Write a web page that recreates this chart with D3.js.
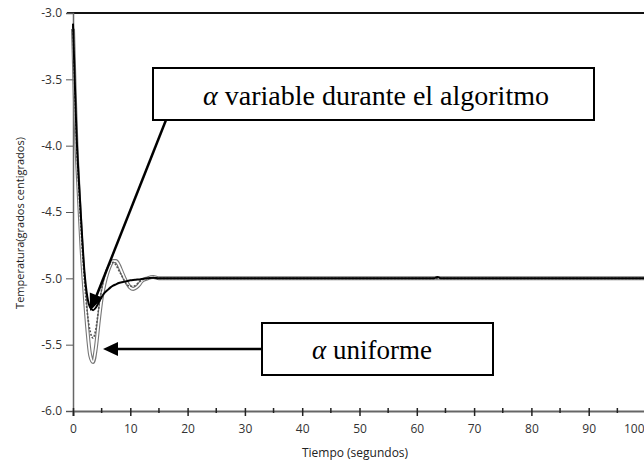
<!DOCTYPE html>
<html>
<head>
<meta charset="utf-8">
<script src="https://cdn.jsdelivr.net/npm/d3@7"></script>
<style>
  body { margin: 0; background: #fff; }
  svg { display: block; }
</style>
</head>
<body>
<script>
// tiempo (s) shared by the three runs
var tiempo = [0, 0.3, 0.6, 1, 1.5, 2, 2.5, 3, 3.5, 4, 4.5, 5, 5.5, 6, 6.5, 7, 7.5, 8, 8.5, 9, 9.5,
  10, 10.5, 11, 11.5, 12, 13, 14, 15, 16, 18, 20, 30, 40, 50, 60, 63, 63.6, 64.2, 70, 80, 90, 100];

// alpha variable durante el algoritmo (solid black)
var tempVariable = [-3.08, -3.5, -3.9, -4.25, -4.62, -4.95, -5.14, -5.22, -5.24, -5.22, -5.18, -5.14, -5.11,
  -5.09, -5.07, -5.055, -5.045, -5.035, -5.03, -5.025, -5.02, -5.015, -5.012, -5.01, -5.008, -5.005,
  -5.0, -4.995, -5.0, -5.0, -5.0, -5.0, -5.0, -5.0, -5.0, -5.0, -5.0, -4.99, -5.0, -5.0, -5.0, -5.0, -5.0];

// alpha uniforme (dotted)
var tempUniforme1 = [-3.1, -3.55, -3.95, -4.3, -4.7, -5.02, -5.26, -5.4, -5.45, -5.38, -5.22, -5.08, -4.98,
  -4.92, -4.89, -4.88, -4.9, -4.94, -4.98, -5.02, -5.05, -5.06, -5.06, -5.05, -5.03, -5.015,
  -5.0, -4.995, -5.0, -5.0, -5.0, -5.0, -5.0, -5.0, -5.0, -5.0, -5.0, -5.0, -5.0, -5.0, -5.0, -5.0, -5.0];

// alpha uniforme (deepest, outlined grey)
var tempUniforme2 = [-3.12, -3.6, -4.0, -4.36, -4.78, -5.1, -5.38, -5.58, -5.63, -5.52, -5.32, -5.15, -5.04,
  -4.96, -4.9, -4.87, -4.87, -4.9, -4.95, -5.0, -5.04, -5.07, -5.08, -5.07, -5.05, -5.02,
  -5.0, -4.99, -5.0, -5.0, -5.0, -5.0, -5.0, -5.0, -5.0, -5.0, -5.0, -5.0, -5.0, -5.0, -5.0, -5.0, -5.0];

var xTicks = [0, 10, 20, 30, 40, 50, 60, 70, 80, 90, 100];
var xMinor = [5, 15, 25, 35, 45, 55, 65, 75, 85, 95];
var yTicks = [-3.0, -3.5, -4.0, -4.5, -5.0, -5.5, -6.0];

var width = 644, height = 469;
var sans = 'Open Sans, DejaVu Sans, sans-serif';
var serif = 'Liberation Serif, Times New Roman, serif';

var svg = d3.select('body').append('svg')
  .attr('width', width)
  .attr('height', height);

var x = d3.scaleLinear().domain([0, 100]).range([73, 646]);
var y = d3.scaleLinear().domain([-6, -3]).range([411, 13]);

// top frame line
svg.append('line')
  .attr('x1', 67).attr('x2', width)
  .attr('y1', y(-3)).attr('y2', y(-3))
  .attr('stroke', '#111').attr('stroke-width', 2);

// y axis
var yAxis = svg.append('g')
  .attr('transform', 'translate(' + x(0) + ',0)')
  .call(d3.axisLeft(y).tickValues(yTicks)
    .tickFormat(function(d) { return d.toFixed(1); })
    .tickSize(7).tickPadding(4));
yAxis.select('.domain').attr('stroke', '#666').attr('stroke-width', 1.5);
yAxis.selectAll('.tick line').attr('stroke', '#555');
yAxis.selectAll('text')
  .attr('font-family', sans)
  .attr('font-size', 12)
  .attr('fill', '#333');

// x axis
var xAxis = svg.append('g')
  .attr('transform', 'translate(0,' + y(-6) + ')')
  .call(d3.axisBottom(x).tickValues(xTicks).tickFormat(d3.format('d')).tickSize(5).tickPadding(8));
xAxis.select('.domain').attr('stroke', '#666').attr('stroke-width', 2);
xAxis.selectAll('.tick line').attr('stroke', '#222').attr('stroke-width', 1.5).attr('y1', -3);
xAxis.selectAll('text')
  .attr('font-family', sans)
  .attr('font-size', 12)
  .attr('fill', '#333');
// last label sits against the right edge
xAxis.selectAll('.tick text').filter(function(d) { return d === 100; })
  .attr('text-anchor', 'end').attr('x', -2);

svg.append('g').selectAll('line')
  .data(xMinor).enter().append('line')
  .attr('x1', function(d) { return x(d); })
  .attr('x2', function(d) { return x(d); })
  .attr('y1', y(-6) - 3).attr('y2', y(-6) + 2)
  .attr('stroke', '#222').attr('stroke-width', 1.5);

// axis titles
svg.append('text')
  .attr('x', 355).attr('y', 457)
  .attr('text-anchor', 'middle')
  .attr('font-family', sans)
  .attr('font-size', 12)
  .attr('fill', '#222')
  .text('Tiempo (segundos)');

svg.append('text')
  .attr('transform', 'translate(24,223) rotate(-90)')
  .attr('text-anchor', 'middle')
  .attr('font-family', sans)
  .attr('font-size', 11)
  .attr('fill', '#222')
  .text('Temperatura(grados centigrados)');

// curves
var line = function(vals) {
  return d3.line()
    .x(function(d, i) { return x(tiempo[i]); })
    .y(function(d) { return y(d); })
    .curve(d3.curveMonotoneX)(vals);
};

svg.append('path').attr('d', line(tempUniforme2))
  .attr('fill', 'none').attr('stroke', '#777').attr('stroke-width', 4);
svg.append('path').attr('d', line(tempUniforme2))
  .attr('fill', 'none').attr('stroke', '#fff').attr('stroke-width', 1.8);

svg.append('path').attr('d', line(tempUniforme1))
  .attr('fill', 'none').attr('stroke', '#555').attr('stroke-width', 1.6)
  .attr('stroke-dasharray', '2,1.5');

svg.append('path').attr('d', line(tempVariable))
  .attr('fill', 'none').attr('stroke', '#000').attr('stroke-width', 2);

// annotations
var arrowHead = function(tipX, tipY, fromX, fromY, len, half) {
  var a = Math.atan2(tipY - fromY, tipX - fromX);
  var bx = tipX - len * Math.cos(a), by = tipY - len * Math.sin(a);
  var px = -Math.sin(a) * half, py = Math.cos(a) * half;
  return 'M' + tipX + ',' + tipY + 'L' + (bx + px) + ',' + (by + py) + 'L' + (bx - px) + ',' + (by - py) + 'Z';
};

// alpha variable pointer
svg.append('line')
  .attr('x1', 166).attr('y1', 120).attr('x2', 96).attr('y2', 297)
  .attr('stroke', '#000').attr('stroke-width', 2.5);
svg.append('path').attr('d', arrowHead(90, 311, 166, 120, 17, 7)).attr('fill', '#000');

svg.append('rect')
  .attr('x', 153).attr('y', 68).attr('width', 441).attr('height', 52)
  .attr('fill', '#fff').attr('stroke', '#000').attr('stroke-width', 2);
var t1 = svg.append('text')
  .attr('x', 376).attr('y', 105)
  .attr('text-anchor', 'middle')
  .attr('font-family', serif)
  .attr('font-size', 28)
  .attr('fill', '#000');
t1.append('tspan').attr('font-style', 'italic').text('α');
t1.append('tspan').text(' variable durante el algoritmo');

// alpha uniforme pointer
svg.append('line')
  .attr('x1', 262).attr('y1', 349).attr('x2', 115).attr('y2', 349)
  .attr('stroke', '#000').attr('stroke-width', 2.5);
svg.append('path').attr('d', arrowHead(103, 349, 262, 349, 15, 7)).attr('fill', '#000');

svg.append('rect')
  .attr('x', 262).attr('y', 323).attr('width', 231).attr('height', 52)
  .attr('fill', '#fff').attr('stroke', '#000').attr('stroke-width', 2);
var t2 = svg.append('text')
  .attr('x', 372).attr('y', 359)
  .attr('text-anchor', 'middle')
  .attr('font-family', serif)
  .attr('font-size', 27)
  .attr('fill', '#000');
t2.append('tspan').attr('font-style', 'italic').text('α');
t2.append('tspan').text(' uniforme');
</script>
</body>
</html>
